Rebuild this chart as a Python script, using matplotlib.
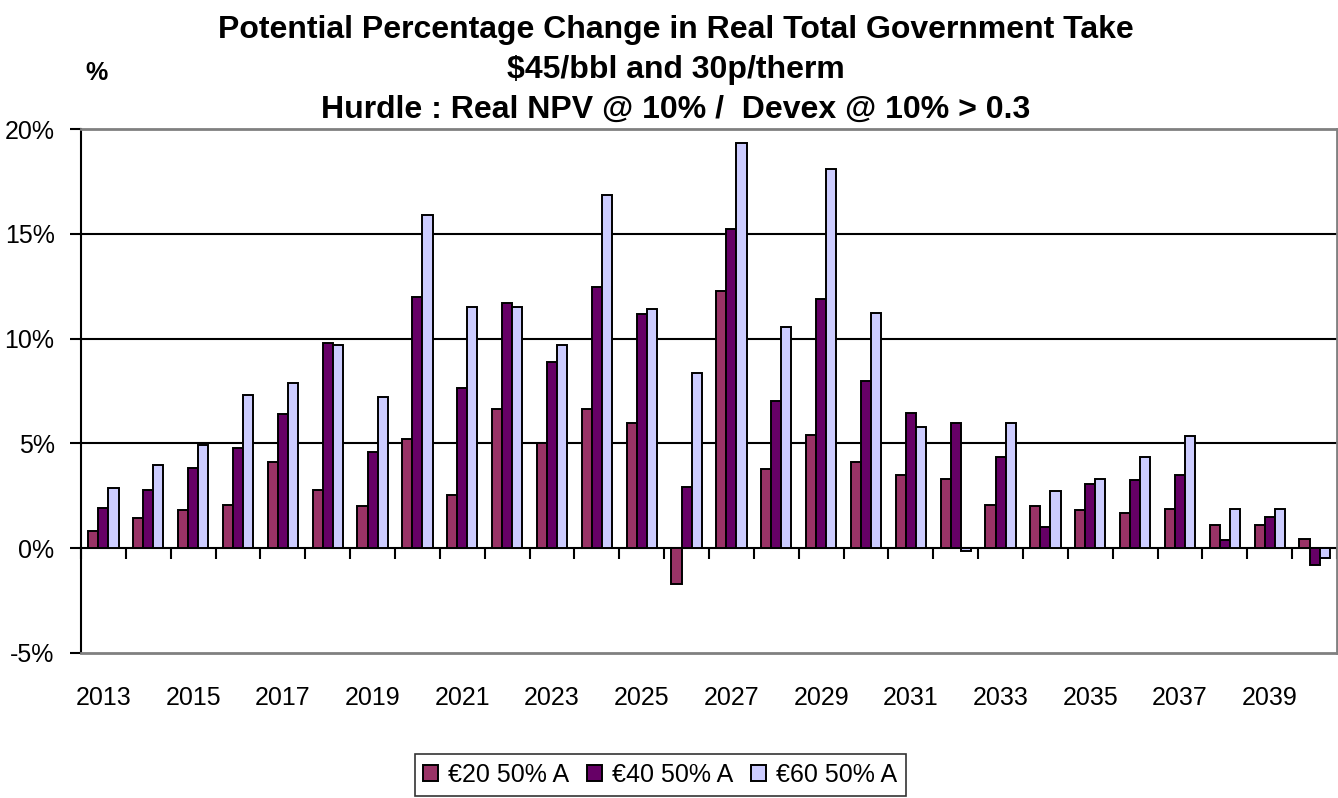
import numpy as np
import matplotlib
matplotlib.use("Agg")
import matplotlib.pyplot as plt
from matplotlib.ticker import FuncFormatter

plt.rcParams['font.family'] = ['Liberation Sans', 'DejaVu Sans']

years = list(range(2013, 2041))
series_names = ["€20 50% A", "€40 50% A", "€60 50% A"]
eur20 = [0.84, 1.43, 1.81, 2.08, 4.10, 2.77, 2.00, 5.23, 2.56, 6.66,
         5.04, 6.66, 5.99, -1.73, 12.29, 3.80, 5.42, 4.09, 3.51, 3.32,
         2.08, 1.99, 1.80, 1.70, 1.89, 1.13, 1.13, 0.46]
eur40 = [1.91, 2.77, 3.82, 4.77, 6.38, 9.81, 4.58, 12.00, 7.63, 11.72,
         8.86, 12.48, 11.15, 2.94, 15.25, 7.04, 11.91, 8.00, 6.47, 5.99,
         4.37, 1.03, 3.04, 3.23, 3.51, 0.37, 1.51, -0.78]
eur60 = [2.85, 3.99, 4.93, 7.33, 7.90, 9.71, 7.23, 15.91, 11.53, 11.53,
         9.71, 16.87, 11.43, 8.38, 19.35, 10.57, 18.10, 11.24, 5.80, -0.11,
         5.99, 2.75, 3.32, 4.37, 5.33, 1.89, 1.89, -0.49]
colors = ["#993366", "#660066", "#CCCCFF"]

W, H = 1338, 798
fig = plt.figure(figsize=(W / 100, H / 100), dpi=100)
ax = fig.add_axes([81 / W, 1 - 653 / H, (1337 - 81) / W, (653 - 129) / H])

x = np.arange(len(years))
bw = 0.225
for i, (vals, col, name) in enumerate(zip([eur20, eur40, eur60], colors, series_names)):
    ax.bar(x + (i - 1) * bw, vals, width=bw, color=col, edgecolor="black",
           linewidth=1.4, label=name, zorder=3)

ax.set_xlim(-0.5, len(years) - 0.5)
ax.set_ylim(-5, 20)

# value axis
ax.set_yticks([-5, 0, 5, 10, 15, 20])
ax.yaxis.set_major_formatter(FuncFormatter(lambda v, p: f"{v:.0f}%"))
ax.tick_params(axis='y', direction='out', length=8, width=1.5, pad=11,
               labelsize=18, color='black')
for v in [5, 10, 15]:
    ax.axhline(v, color='black', linewidth=1.5, zorder=1)

# category labels along the bottom edge, every other year
ax.set_xticks(x[::2])
ax.set_xticklabels([str(y) for y in years[::2]])
ax.tick_params(axis='x', length=0, pad=24, labelsize=18)

# frame
for s in ['top', 'right', 'bottom']:
    ax.spines[s].set_color('#808080')
    ax.spines[s].set_linewidth(2)
ax.spines['left'].set_color('black')
ax.spines['left'].set_linewidth(1.5)

# category axis crossing at zero, ticks between categories
sec = ax.secondary_xaxis(0, transform=ax.transData)
sec.set_xticks(np.arange(len(years) + 1) - 0.5)
sec.tick_params(axis='x', direction='out', length=8, width=1.5, labelbottom=False,
                color='black')
sec.spines['bottom'].set_color('black')
sec.spines['bottom'].set_linewidth(1.5)
sec.spines['bottom'].set_zorder(4)

fig.text(676 / W, 1 - 70 / H,
         "Potential Percentage Change in Real Total Government Take\n"
         "$45/bbl and 30p/therm\n"
         "Hurdle : Real NPV @ 10% /  Devex @ 10% > 0.3",
         ha='center', va='center', fontsize=23, fontweight='bold',
         linespacing=1.42)
fig.text(96 / W, 1 - 73 / H, "%", ha='center', va='center', fontsize=18,
         fontweight='bold')

leg = fig.legend(loc='center', bbox_to_anchor=(660 / W, 1 - 775 / H), ncol=3,
                 fontsize=18, frameon=True, fancybox=False, edgecolor='black',
                 handlelength=0.6, handleheight=0.6, handletextpad=0.4,
                 columnspacing=0.7, borderpad=0.35, borderaxespad=0)
leg.get_frame().set_linewidth(1.2)

fig.savefig("out.png", dpi=100)
